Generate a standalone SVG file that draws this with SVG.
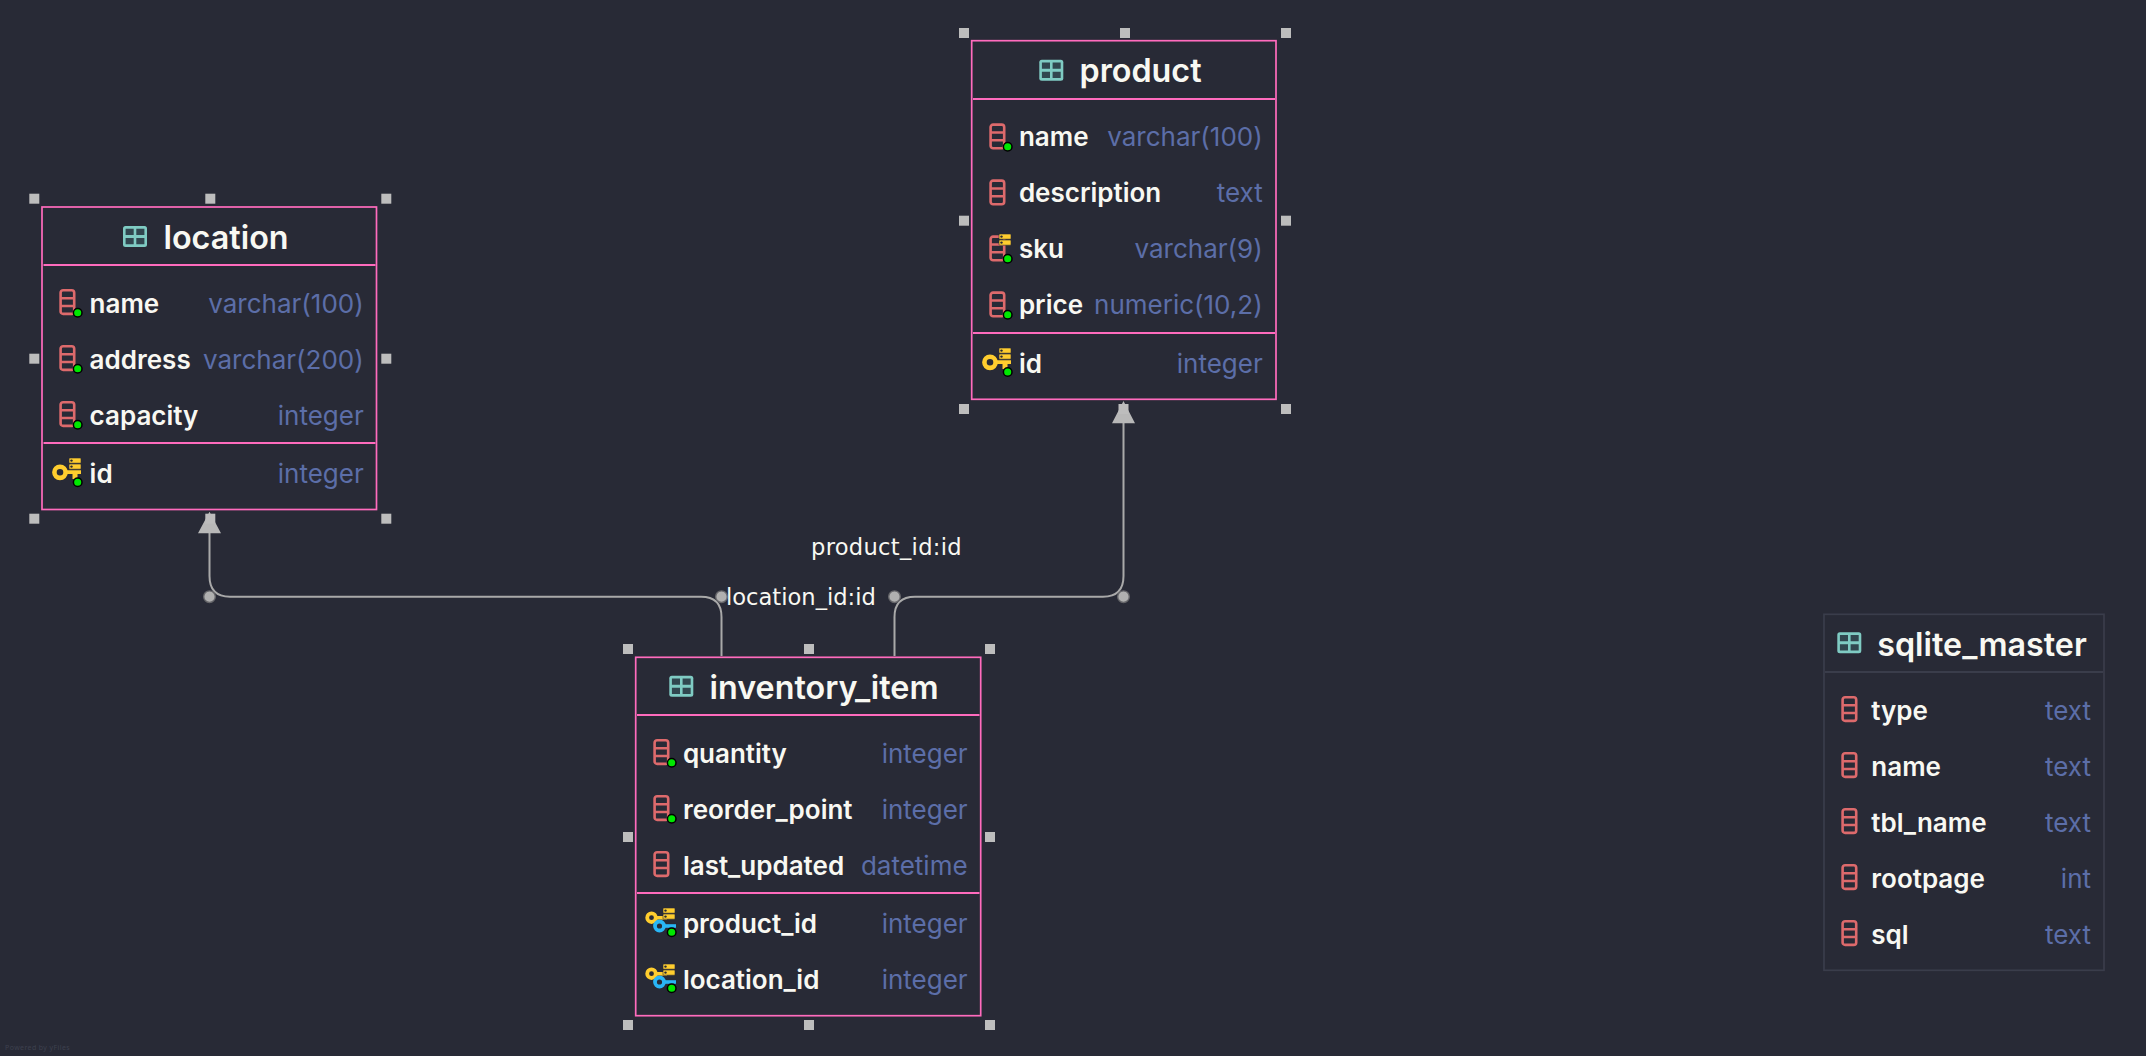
<svg xmlns="http://www.w3.org/2000/svg" width="2146" height="1056" viewBox="0 0 2146 1056">
<style>
text{font-family:Inter,"Noto Sans",sans-serif}
.box{fill:#282a36;stroke:#ff6bbd;stroke-width:1.7}
.sep{stroke:#ff6bbd;stroke-width:2;fill:none}
.box.plain{stroke:#3a3d4b;stroke-width:1.7}
.sep.plain{stroke:#3a3d4b;stroke-width:2}
.title{font-size:32.3px;font-weight:600;fill:#f8f8f2}
.col{font-size:26px;font-weight:600;fill:#f8f8f2}
.typ{font-size:26px;font-weight:400;fill:#5c6ea8;text-anchor:end}
.h{fill:#bdbdbd}
.edge{fill:none;stroke:#a9a9a9;stroke-width:2}
.dot{fill:#b0b0b0;stroke:#66666a;stroke-width:1.4}
.lbl{font-family:"DejaVu Sans",sans-serif;font-size:22.6px;fill:#f8f8f2}
</style>
<defs>
<g id="tbl"><rect x="0" y="0" width="24" height="21" rx="2.5" fill="#7fcbc3"/><path d="M2.6 2.8h8.1v6.2H2.6zM13.3 2.8h8.1v6.2h-8.1zM2.6 12h8.1v6.2H2.6zM13.3 12h8.1v6.2h-8.1z" fill="#31464f"/></g>
<g id="colI"><rect x="1.3" y="1.3" width="13.6" height="23.6" rx="2.5" fill="none" stroke="#dd6a6c" stroke-width="2.6"/><path d="M1.5 9.2h13M1.5 17h13" stroke="#dd6a6c" stroke-width="2.6" fill="none"/></g>
<g id="dot"><circle r="4.3" fill="#00e800" stroke="#000" stroke-width="1.5"/></g>
<g id="db"><rect x="0" y="0" width="12" height="5.2" rx="0.8" fill="#ffcd2e" stroke="#282a36" stroke-width="0.6"/><rect x="0" y="6" width="12" height="5.2" rx="0.8" fill="#ffcd2e" stroke="#282a36" stroke-width="0.6"/><circle cx="2.5" cy="2.6" r="1.2" fill="#282a36"/><circle cx="2.5" cy="8.6" r="1.2" fill="#282a36"/></g>
<g id="pk"><circle cx="8" cy="14.3" r="5.6" fill="none" stroke="#ffcd2e" stroke-width="4.6"/><path d="M13 12.3h16v3.8h-3.5v5h-5v-5H13z" fill="#ffcd2e"/><use href="#db" x="17" y="0"/></g>
<g id="fk"><circle cx="6.5" cy="9.7" r="4.3" fill="none" stroke="#ffcd2e" stroke-width="3.8"/><path d="M10 8h12v3.6H10z" fill="#ffcd2e"/><use href="#db" x="18" y="0"/><circle cx="14.5" cy="18" r="4.5" fill="none" stroke="#29b6f6" stroke-width="3.8"/><path d="M18 16.2h13v3.6H18z" fill="#29b6f6"/></g>
</defs>
<rect id="background" width="2146" height="1056" fill="#282a36"/>

<g id="connectors">
<path class="edge" d="M721.5 656V617Q721.5 596.7 701 596.7H230Q209.5 596.7 209.5 576V533"/>
<path class="edge" d="M894.5 656V617Q894.5 596.7 915 596.7H1103Q1123.5 596.7 1123.5 576V423"/>
<path d="M209.5 511.7L221 533.3H198z M1123.5 401L1135 423.3H1112z" fill="#b8b8b8"/>
<circle class="dot" cx="209.5" cy="596.7" r="5.8"/>
<circle class="dot" cx="721.5" cy="596.7" r="5.8"/>
<circle class="dot" cx="894.5" cy="596.7" r="5.8"/>
<circle class="dot" cx="1123.5" cy="596.7" r="5.8"/>
<text class="lbl" x="811" y="555" letter-spacing=".3">product_id:id</text>
<text class="lbl" x="726" y="604.5">location_id:id</text>
</g>

<g id="node-location">
<rect class="box" x="42" y="207" width="334.5" height="302.5"/>
<path class="sep" d="M43.5 265H375.5M43.5 443H375.5"/>
<use href="#tbl" x="123" y="226"/>
<text class="title" x="163.5" y="248.5">location</text>
<use href="#colI" x="59.3" y="289"/><use href="#dot" x="77.7" y="312.7"/>
<text class="col" x="89.6" y="312.5">name</text><text class="typ" x="363.7" y="312.5">varchar(100)</text>
<use href="#colI" x="59.3" y="345"/><use href="#dot" x="77.7" y="368.7"/>
<text class="col" x="89.6" y="368.5">address</text><text class="typ" x="363.7" y="368.5">varchar(200)</text>
<use href="#colI" x="59.3" y="401"/><use href="#dot" x="77.7" y="424.7"/>
<text class="col" x="89.6" y="424.5">capacity</text><text class="typ" x="363.7" y="424.5">integer</text>
<use href="#pk" x="52" y="458"/><use href="#dot" x="77.7" y="482.3"/>
<text class="col" x="89.6" y="482.7">id</text><text class="typ" x="363.7" y="482.7">integer</text>
<g class="h"><rect x="29.3" y="193.7" width="10" height="10"/><rect x="205.3" y="193.7" width="10" height="10"/><rect x="381.3" y="193.7" width="10" height="10"/><rect x="29.3" y="353.7" width="10" height="10"/><rect x="381.3" y="353.7" width="10" height="10"/><rect x="29.3" y="513.7" width="10" height="10"/><rect x="381.3" y="513.7" width="10" height="10"/><rect x="205.3" y="513.7" width="10" height="10"/></g>
</g>

<g id="node-product">
<rect class="box" x="971.7" y="40.7" width="304.3" height="358.6"/>
<path class="sep" d="M973 99H1275M973 333H1275"/>
<use href="#tbl" x="1039.3" y="59.7"/>
<text class="title" x="1079.5" y="82">product</text>
<use href="#colI" x="989.3" y="123.3"/><use href="#dot" x="1007.7" y="146.7"/>
<text class="col" x="1018.9" y="146">name</text><text class="typ" x="1262.7" y="146">varchar(100)</text>
<use href="#colI" x="989.3" y="179.3"/>
<text class="col" x="1018.9" y="202">description</text><text class="typ" x="1262.7" y="202">text</text>
<use href="#colI" x="989.3" y="235.3"/><use href="#db" x="999" y="234"/><use href="#dot" x="1007.7" y="258.7"/>
<text class="col" x="1018.9" y="258">sku</text><text class="typ" x="1262.7" y="258">varchar(9)</text>
<use href="#colI" x="989.3" y="291.3"/><use href="#dot" x="1007.7" y="314.7"/>
<text class="col" x="1018.9" y="314">price</text><text class="typ" x="1262.7" y="314">numeric(10,2)</text>
<use href="#pk" x="982" y="348"/><use href="#dot" x="1007.7" y="372"/>
<text class="col" x="1018.9" y="372.7">id</text><text class="typ" x="1262.7" y="372.7">integer</text>
<g class="h"><rect x="959" y="28" width="10" height="10"/><rect x="1120" y="28" width="10" height="10"/><rect x="1281" y="28" width="10" height="10"/><rect x="959" y="215.7" width="10" height="10"/><rect x="1281" y="215.7" width="10" height="10"/><rect x="959" y="404" width="10" height="10"/><rect x="1281" y="404" width="10" height="10"/><rect x="1118.5" y="404" width="10" height="10"/></g>
</g>

<g id="node-inventory_item">
<rect class="box" x="635.7" y="657.3" width="345" height="358.4"/>
<path class="sep" d="M637 715H979.5M637 893H979.5"/>
<use href="#tbl" x="669.3" y="675.7"/>
<text class="title" x="709.5" y="699">inventory_item</text>
<use href="#colI" x="653.3" y="739"/><use href="#dot" x="671.7" y="762.7"/>
<text class="col" x="682.9" y="762.8">quantity</text><text class="typ" x="967.6" y="762.8">integer</text>
<use href="#colI" x="653.3" y="795"/><use href="#dot" x="671.7" y="818.7"/>
<text class="col" x="682.9" y="818.8">reorder_point</text><text class="typ" x="967.6" y="818.8">integer</text>
<use href="#colI" x="653.3" y="851"/>
<text class="col" x="682.9" y="874.8">last_updated</text><text class="typ" x="967.6" y="874.8">datetime</text>
<use href="#fk" x="645" y="908"/><use href="#dot" x="671.7" y="932.3"/>
<text class="col" x="682.9" y="932.7">product_id</text><text class="typ" x="967.6" y="932.7">integer</text>
<use href="#fk" x="645" y="964"/><use href="#dot" x="671.7" y="988.3"/>
<text class="col" x="682.9" y="988.7">location_id</text><text class="typ" x="967.6" y="988.7">integer</text>
<g class="h"><rect x="623" y="644" width="10" height="10"/><rect x="804" y="644" width="10" height="10"/><rect x="985" y="644" width="10" height="10"/><rect x="623" y="832" width="10" height="10"/><rect x="985" y="832" width="10" height="10"/><rect x="623" y="1020" width="10" height="10"/><rect x="804" y="1020" width="10" height="10"/><rect x="985" y="1020" width="10" height="10"/></g>
</g>

<g id="node-sqlite_master">
<rect class="box plain" x="1824" y="614.3" width="280" height="356"/>
<path class="sep plain" d="M1825 672H2103"/>
<use href="#tbl" x="1837.3" y="632.3"/>
<text class="title" x="1877.2" y="655.5">sqlite_master</text>
<use href="#colI" x="1841.3" y="696"/>
<text class="col" x="1871.3" y="719.5">type</text><text class="typ" x="2091" y="719.5">text</text>
<use href="#colI" x="1841.3" y="752"/>
<text class="col" x="1871.3" y="775.5">name</text><text class="typ" x="2091" y="775.5">text</text>
<use href="#colI" x="1841.3" y="808"/>
<text class="col" x="1871.3" y="831.5">tbl_name</text><text class="typ" x="2091" y="831.5">text</text>
<use href="#colI" x="1841.3" y="864"/>
<text class="col" x="1871.3" y="887.5">rootpage</text><text class="typ" x="2091" y="887.5">int</text>
<use href="#colI" x="1841.3" y="920"/>
<text class="col" x="1871.3" y="943.5">sql</text><text class="typ" x="2091" y="943.5">text</text>
</g>

<text id="credit" x="5" y="1050" style="font-family:'Noto Sans',sans-serif;font-size:7px;letter-spacing:.4px" fill="#3d404e">Powered by yFiles</text>
</svg>
